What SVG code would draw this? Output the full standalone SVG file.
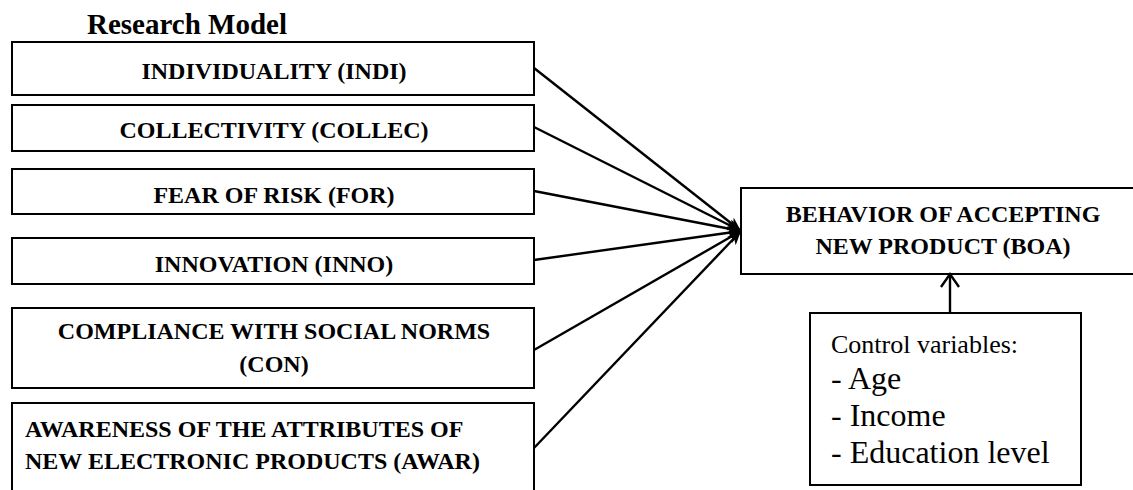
<svg xmlns="http://www.w3.org/2000/svg" width="1133" height="490" viewBox="0 0 1133 490">
<defs>
<style>
.box{fill:#fff;stroke:#000;stroke-width:2}
.t{font-family:"Liberation Serif","Times New Roman",serif;font-weight:bold;font-size:24px;fill:#000}
.c{text-anchor:middle}
.r{font-family:"Liberation Serif","Times New Roman",serif;fill:#000}
.ln{stroke:#000;stroke-width:2.4;fill:none}
</style>
<marker id="ah" markerUnits="userSpaceOnUse" markerWidth="16" markerHeight="12" refX="14" refY="6" orient="auto">
<path d="M0,0 L14,6 L0,12 L4,6 Z" fill="#000"/>
</marker>
</defs>
<rect width="1133" height="490" fill="#fff"/>
<text x="87" y="34" class="t" style="font-size:29px">Research Model</text>
<g id="indi"><rect class="box" x="12" y="42" width="522" height="53"/><text class="t c" x="274" y="79">INDIVIDUALITY (INDI)</text></g>
<g id="collec"><rect class="box" x="12" y="105" width="522" height="46"/><text class="t c" x="274" y="138">COLLECTIVITY (COLLEC)</text></g>
<g id="for"><rect class="box" x="12" y="169" width="522" height="45"/><text class="t c" x="274" y="203">FEAR OF RISK (FOR)</text></g>
<g id="inno"><rect class="box" x="12" y="238" width="522" height="46"/><text class="t c" x="274" y="272">INNOVATION (INNO)</text></g>
<g id="con"><rect class="box" x="12" y="308" width="522" height="80"/><text class="t c" x="274" y="339">COMPLIANCE WITH SOCIAL NORMS</text><text class="t c" x="274" y="372">(CON)</text></g>
<g id="awar"><rect class="box" x="12" y="403" width="522" height="100"/><text class="t" x="25" y="437">AWARENESS OF THE ATTRIBUTES OF</text><text class="t" x="25" y="469">NEW ELECTRONIC PRODUCTS (AWAR)</text></g>
<g id="boa"><rect class="box" x="741" y="188" width="410" height="86"/><text class="t c" x="943" y="222">BEHAVIOR OF ACCEPTING</text><text class="t c" x="943" y="254">NEW PRODUCT (BOA)</text></g>
<g id="control"><rect class="box" x="810" y="313" width="271" height="172"/>
<text class="r" x="831" y="353" font-size="26">Control variables:</text>
<text class="r" x="831" y="389" font-size="32">- Age</text>
<text class="r" x="831" y="426" font-size="32">- Income</text>
<text class="r" x="831" y="463" font-size="32">- Education level</text></g>
<g id="connectors">
<line class="ln" x1="534" y1="68" x2="741" y2="231" marker-end="url(#ah)"/>
<line class="ln" x1="534" y1="127" x2="741" y2="231" marker-end="url(#ah)"/>
<line class="ln" x1="534" y1="191" x2="741" y2="231" marker-end="url(#ah)"/>
<line class="ln" x1="534" y1="260" x2="741" y2="231" marker-end="url(#ah)"/>
<line class="ln" x1="534" y1="350" x2="741" y2="231" marker-end="url(#ah)"/>
<line class="ln" x1="534" y1="448" x2="741" y2="231" marker-end="url(#ah)"/>
<line class="ln" x1="950" y1="313" x2="950" y2="276"/>
<path class="ln" d="M941,287 L950,274 L959,287"/>
</g>
</svg>
